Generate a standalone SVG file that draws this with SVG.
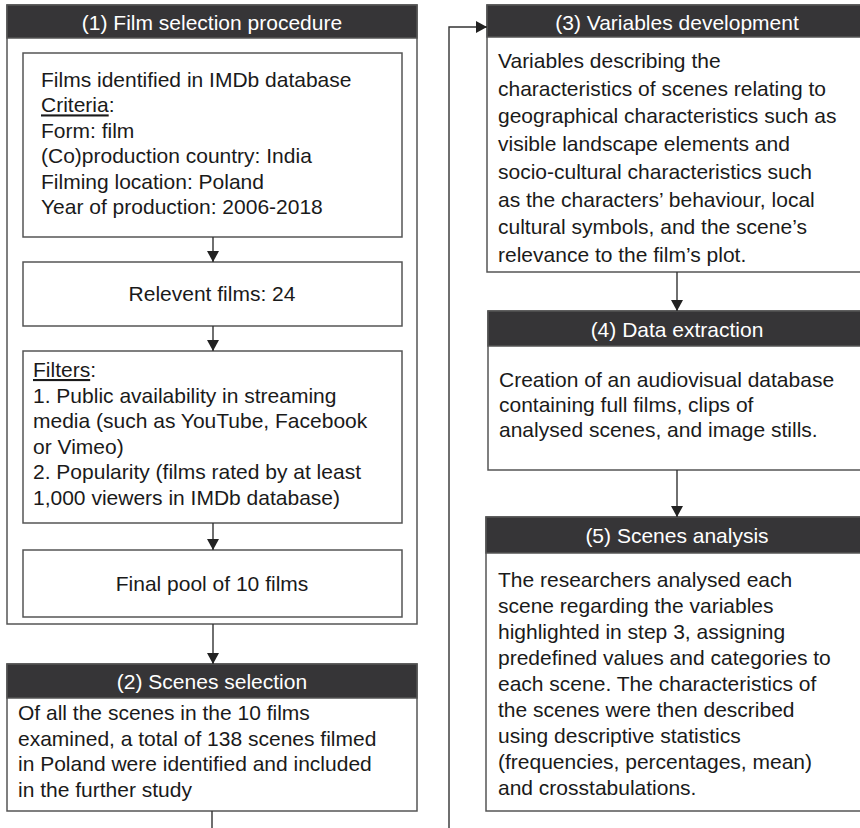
<svg xmlns="http://www.w3.org/2000/svg" width="860" height="828" viewBox="0 0 860 828">
<style>
.box{fill:#fff;stroke:#555;stroke-width:1.5}
.hdr{fill:#363537;stroke:#555;stroke-width:1.5}
.ht{font-family:"Liberation Sans",Arial,sans-serif;font-size:21px;fill:#fff;text-anchor:middle}
.t{font-family:"Liberation Sans",Arial,sans-serif;font-size:21px;fill:#1a1a1a}
.c{text-anchor:middle}
.u{text-decoration:underline}
.con{fill:none;stroke:#333;stroke-width:1.4}
</style>
<defs>
<marker id="ah" markerUnits="userSpaceOnUse" markerWidth="12" markerHeight="12" refX="11" refY="6" orient="auto">
<path d="M0,0 L11,6 L0,12 z" fill="#222"/>
</marker>
</defs>
<g id="step1">
<rect class="box" x="7" y="5" width="410" height="619"/>
<rect class="hdr" x="7" y="5" width="410" height="33"/>
<text class="ht" x="212" y="30">(1) Film selection procedure</text>
</g>
<g id="criteria">
<rect class="box" x="23" y="53" width="379" height="184"/>
<text class="t" x="41" y="87">Films identified in IMDb database</text>
<text class="t" x="41" y="112.4"><tspan class="u">Criteria</tspan>:</text>
<text class="t" x="41" y="137.8">Form: film</text>
<text class="t" x="41" y="163.2">(Co)production country: India</text>
<text class="t" x="41" y="188.6">Filming location: Poland</text>
<text class="t" x="41" y="214">Year of production: 2006-2018</text>
</g>
<g id="relevant">
<rect class="box" x="23" y="262" width="379" height="64"/>
<text class="t c" x="212" y="301">Relevent films: 24</text>
</g>
<g id="filters">
<rect class="box" x="23" y="351" width="379" height="172"/>
<text class="t" x="33" y="377"><tspan class="u">Filters</tspan>:</text>
<text class="t" x="33" y="402.6">1. Public availability in streaming</text>
<text class="t" x="33" y="428.2">media (such as YouTube, Facebook</text>
<text class="t" x="33" y="453.8">or Vimeo)</text>
<text class="t" x="33" y="479.4">2. Popularity (films rated by at least</text>
<text class="t" x="33" y="505">1,000 viewers in IMDb database)</text>
</g>
<g id="finalpool">
<rect class="box" x="23" y="550" width="379" height="67"/>
<text class="t c" x="212" y="591">Final pool of 10 films</text>
</g>
<g id="step2">
<rect class="box" x="7" y="664" width="410" height="147"/>
<rect class="hdr" x="7" y="664" width="410" height="34"/>
<text class="ht" x="212" y="689">(2) Scenes selection</text>
<text class="t" x="18" y="720">Of all the scenes in the 10 films</text>
<text class="t" x="18" y="745.7">examined, a total of 138 scenes filmed</text>
<text class="t" x="18" y="771.4">in Poland were identified and included</text>
<text class="t" x="18" y="797">in the further study</text>
</g>
<g id="step3">
<rect class="box" x="487" y="5" width="410" height="267"/>
<rect class="hdr" x="487" y="5" width="410" height="32"/>
<text class="ht" x="677" y="30">(3) Variables development</text>
<text class="t" x="498" y="68">Variables describing the</text>
<text class="t" x="498" y="95.7">characteristics of scenes relating to</text>
<text class="t" x="498" y="123.4">geographical characteristics such as</text>
<text class="t" x="498" y="151.1">visible landscape elements and</text>
<text class="t" x="498" y="178.8">socio-cultural characteristics such</text>
<text class="t" x="498" y="206.5">as the characters’ behaviour, local</text>
<text class="t" x="498" y="234.2">cultural symbols, and the scene’s</text>
<text class="t" x="498" y="262">relevance to the film’s plot.</text>
</g>
<g id="step4">
<rect class="box" x="488" y="311" width="410" height="159"/>
<rect class="hdr" x="488" y="311" width="410" height="35"/>
<text class="ht" x="677" y="337">(4) Data extraction</text>
<text class="t" x="499" y="387">Creation of an audiovisual database</text>
<text class="t" x="499" y="412">containing full films, clips of</text>
<text class="t" x="499" y="437">analysed scenes, and image stills.</text>
</g>
<g id="step5">
<rect class="box" x="486" y="517" width="412" height="294"/>
<rect class="hdr" x="486" y="517" width="412" height="36"/>
<text class="ht" x="677" y="543">(5) Scenes analysis</text>
<text class="t" x="498" y="587">The researchers analysed each</text>
<text class="t" x="498" y="613">scene regarding the variables</text>
<text class="t" x="498" y="639">highlighted in step 3, assigning</text>
<text class="t" x="498" y="665">predefined values and categories to</text>
<text class="t" x="498" y="691">each scene. The characteristics of</text>
<text class="t" x="498" y="717">the scenes were then described</text>
<text class="t" x="498" y="743">using descriptive statistics</text>
<text class="t" x="498" y="769">(frequencies, percentages, mean)</text>
<text class="t" x="498" y="795">and crosstabulations.</text>
</g>
<g id="connectors">
<path class="con" d="M213,237 V262" marker-end="url(#ah)"/>
<path class="con" d="M213,326 V351" marker-end="url(#ah)"/>
<path class="con" d="M213,523 V550" marker-end="url(#ah)"/>
<path class="con" d="M213,624 V664" marker-end="url(#ah)"/>
<path class="con" d="M212,811 V845 H449 V27 H487" marker-end="url(#ah)"/>
<path class="con" d="M677,272 V311" marker-end="url(#ah)"/>
<path class="con" d="M677,470 V517" marker-end="url(#ah)"/>
</g>
</svg>
